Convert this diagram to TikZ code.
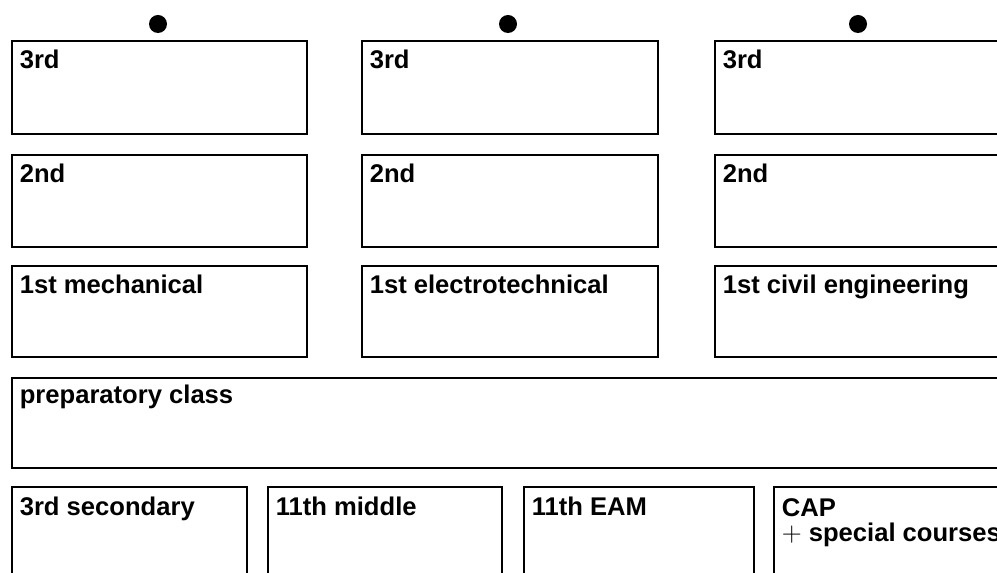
\documentclass[tikz,border=0pt]{standalone}
\usepackage{fontspec}
\setmainfont{Liberation Sans}
\usetikzlibrary{fit}
\begin{document}
\begin{tikzpicture}[x=0.75pt,y=-0.75pt,
  box/.style={draw=black,line width=2.2pt,inner sep=0pt,rectangle},
  lab/.style={anchor=base west,inner sep=0pt,font=\fontsize{19.2}{18.9}\selectfont\bfseries,align=left},
  pin/.style={fill=black,circle,inner sep=0pt,minimum size=13.5pt}]
\useasboundingbox (0,0) rectangle (997,573);
\clip (0,0) rectangle (997,573);
% dots
\node[pin] (d1) at (158,24) {};
\node[pin] (d2) at (508,24) {};
\node[pin] (d3) at (858,24) {};
% row 1
\node[box,fit={(12,41) (307,134)}] (a1) {};
\node[box,fit={(362,41) (658,134)}] (b1) {};
\node[box,fit={(715,41) (1010,134)}] (c1) {};
% row 2
\node[box,fit={(12,155) (307,247)}] (a2) {};
\node[box,fit={(362,155) (658,247)}] (b2) {};
\node[box,fit={(715,155) (1010,247)}] (c2) {};
% row 3
\node[box,fit={(12,266) (307,357)}] (a3) {};
\node[box,fit={(362,266) (658,357)}] (b3) {};
\node[box,fit={(715,266) (1010,357)}] (c3) {};
% preparatory
\node[box,fit={(12,378) (1010,468)}] (p) {};
% bottom row
\node[box,fit={(12,487) (247,620)}] (e1) {};
\node[box,fit={(268,487) (502,620)}] (e2) {};
\node[box,fit={(524,487) (754,620)}] (e3) {};
\node[box,fit={(774,487) (1010,620)}] (e4) {};
% labels
\node[lab] (ta1) at ([xshift=6.75pt,yshift=-21.75pt]a1.north west) {3rd};
\node[lab] (tb1) at ([xshift=6.75pt,yshift=-21.75pt]b1.north west) {3rd};
\node[lab] (tc1) at ([xshift=6.75pt,yshift=-21.75pt]c1.north west) {3rd};
\node[lab] (ta2) at ([xshift=6.75pt,yshift=-21.75pt]a2.north west) {2nd};
\node[lab] (tb2) at ([xshift=6.75pt,yshift=-21.75pt]b2.north west) {2nd};
\node[lab] (tc2) at ([xshift=6.75pt,yshift=-21.75pt]c2.north west) {2nd};
\node[lab] (ta3) at ([xshift=6.75pt,yshift=-21.75pt]a3.north west) {1st mechanical};
\node[lab] (tb3) at ([xshift=6.75pt,yshift=-21.75pt]b3.north west) {1st electrotechnical};
\node[lab] (tc3) at ([xshift=6.75pt,yshift=-21.75pt]c3.north west) {1st civil engineering};
\node[lab] (tp) at ([xshift=6.75pt,yshift=-20.5pt]p.north west) {preparatory class};
\node[lab] (te1) at ([xshift=6.75pt,yshift=-22.5pt]e1.north west) {3rd secondary};
\node[lab] (te2) at ([xshift=6.75pt,yshift=-22.5pt]e2.north west) {11th middle};
\node[lab] (te3) at ([xshift=6.75pt,yshift=-22.5pt]e3.north west) {11th EAM};
\node[lab] (te4) at ([xshift=6.75pt,yshift=-42pt]e4.north west) {CAP\\{\mdseries$+$} special courses};
\end{tikzpicture}
\end{document}
